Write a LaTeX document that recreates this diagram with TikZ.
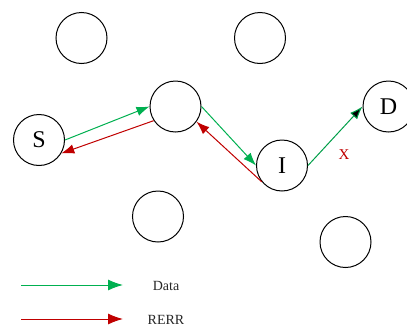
\documentclass[tikz,border=0pt]{standalone}
\usepackage{fontspec}
\setmainfont{Liberation Serif}
\usetikzlibrary{arrows.meta}
\definecolor{datagreen}{RGB}{0,176,80}
\definecolor{errred}{RGB}{192,0,0}
\begin{document}
\begin{tikzpicture}[x=1pt,y=-1pt,
  host/.style={circle,draw=black,line width=1pt,minimum size=51pt,inner sep=0pt,
    font=\fontsize{24}{24}\selectfont},
  tip/.style={-{Latex[length=13pt,width=9.5pt]}},
  datalink/.style={draw=datagreen,line width=1pt,tip},
  errlink/.style={draw=errred,line width=1pt,tip},
  legtip/.style={line width=1pt,-{Latex[length=15pt,width=11pt]}},
  legtext/.style={font=\fontsize{14}{14}\selectfont,text=black!85}]
\useasboundingbox (0,0) rectangle (407,327);

% network hosts
\node[host] (n1) at (81.5,38) {};
\node[host] (n2) at (260,38) {};
\node[host] (S) at (39,140) {S};
\node[host] (M) at (175.5,106.5) {};
\node[host] (I) at (282,165.5) {I};
\node[host] (D) at (388.5,106.5) {D};
\node[host] (n3) at (158,216.5) {};
\node[host] (n4) at (345.5,242) {};

% data path and error reports
\draw[datalink] (S.east) -- (M.west);
\draw[errlink] (M.213) -- (S.-31);
\draw[datalink] (M.east) -- (I.west);
\draw[errlink] (I.219) -- (M.-36);
\draw[draw=datagreen!90!black,line width=1pt,-{Latex[length=13pt,width=9.5pt,fill=black]}] (I.east) -- (D.west);
\node[text=errred,font=\fontsize{15}{15}\selectfont] (x) at (344,154.5) {X};

% legend
\coordinate (ga) at (21,285);
\coordinate (gb) at (123,285);
\coordinate (ra) at (21,319);
\coordinate (rb) at (123,319);
\draw[legtip,draw=datagreen] (ga) -- (gb);
\draw[legtip,draw=errred] (ra) -- (rb);
\node[legtext] (ld) at (166,286) {Data};
\node[legtext] (lr) at (166,320) {RERR};
\end{tikzpicture}
\end{document}
